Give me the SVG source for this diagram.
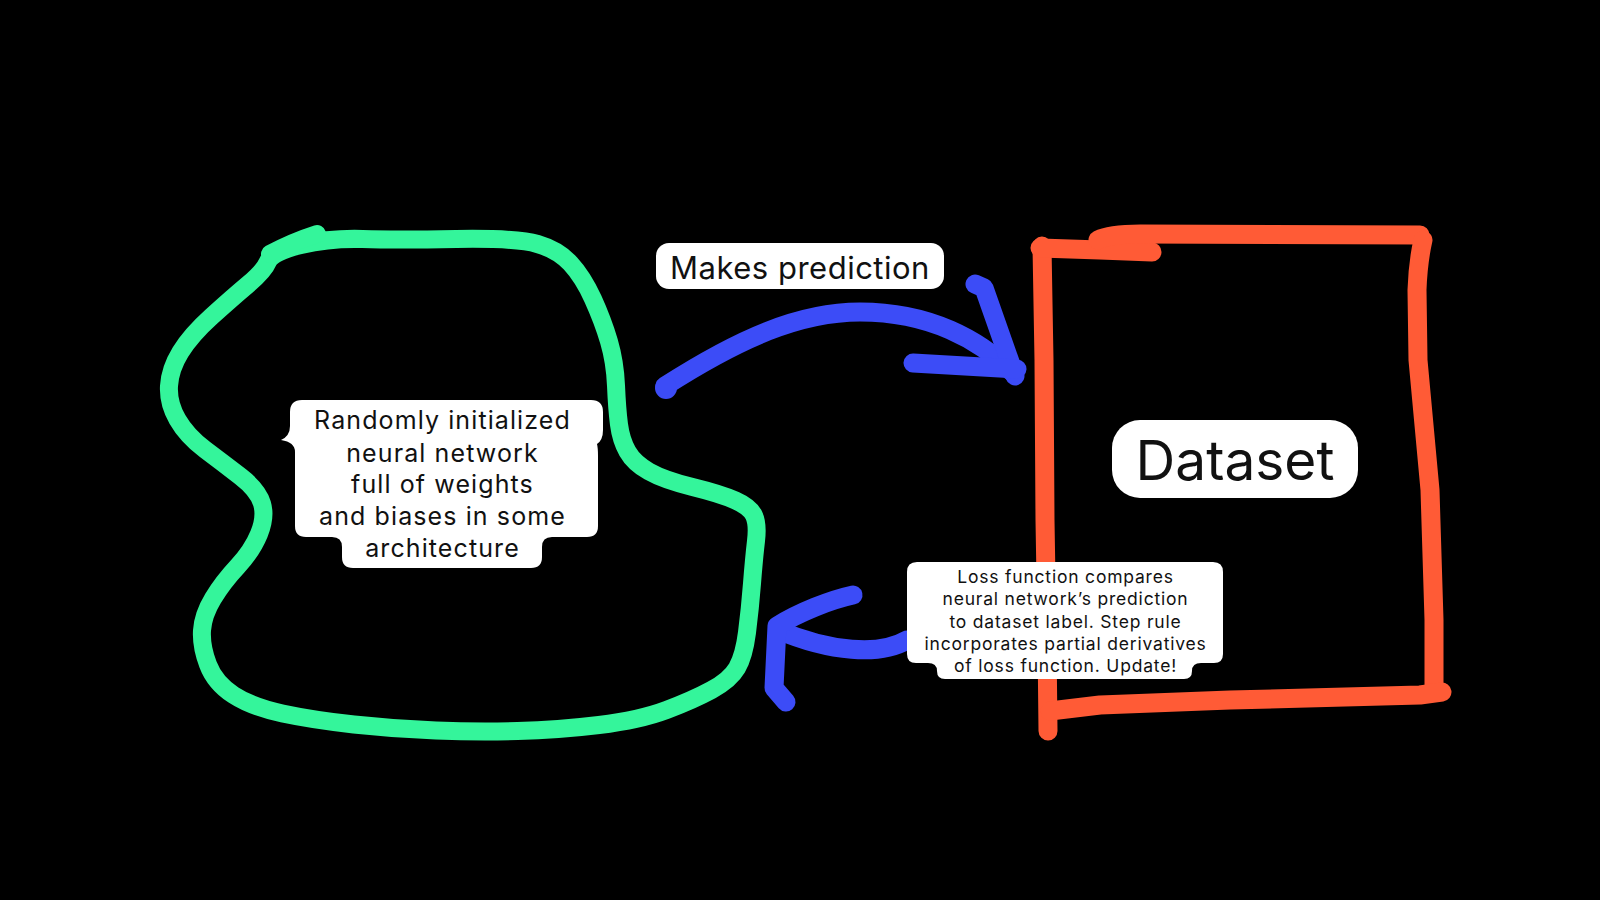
<svg xmlns="http://www.w3.org/2000/svg" width="1600" height="900" viewBox="0 0 1600 900">
<style>
.green{fill:none;stroke:#34F59B;stroke-width:18;stroke-linecap:round;stroke-linejoin:round}
.orange{fill:none;stroke:#FF5B36;stroke-width:19;stroke-linecap:round;stroke-linejoin:round}
.blue{fill:none;stroke:#3C4CF7;stroke-width:19;stroke-linecap:round;stroke-linejoin:round}
.bub{fill:#FFFFFF}
.t{font-family:Inter,"Noto Sans","Liberation Sans",sans-serif;fill:#111111;text-anchor:middle}
.t1{font-size:25px;letter-spacing:1.1px}
.t2{font-size:17.5px;letter-spacing:0.8px}
</style>
<rect x="0" y="0" width="1600" height="900" fill="#000000"/>

<g id="network">
<path class="green" d="M268,261.5 Q272,252 301,245 Q330,238 362.5,239 Q395,240 456,239 Q517,238 537.5,244 Q558,250 570.5,263.5 Q583,277 593,299 Q603,321 609,341.5 Q615,362 616,385.5 Q617,409 619,424.5 Q621,440 627.5,451.5 Q634,463 649,471.5 Q664,480 692.5,487 Q721,494 735.5,500.5 Q750,507 754,515.5 Q758,524 756,541 Q754,558 752,583.5 Q750,609 747,632.5 Q744,656 737,668 Q730,680 711.5,690 Q693,700 666.5,710 Q640,720 599,725 Q558,730 517.5,731 Q477,732 436,730.5 Q395,729 354,724.5 Q313,720 282.5,713.5 Q252,707 233.5,695 Q215,683 208,664.5 Q201,646 202,630.5 Q203,615 213,598.5 Q223,582 237.5,566.5 Q252,551 259,534 Q266,517 262,503.5 Q258,490 240.5,476.5 Q223,463 205,449.5 Q187,436 177.5,419.5 Q168,403 169,386 Q170,369 180.5,352 Q191,335 211.5,316.5 Q232,298 248,284.5 Q264,271 268,261.5 Z"/>
<path class="green" d="M270,254 Q292,242 317,234"/>
<path class="bub" d="M302,400 L591,400 Q603,400 603,412 L603,430 Q603,440 597,444 Q598,448 598,456 L598,526 Q598,537 587,537 L552,537 Q542,537 542,547 L542,557 Q542,568 531,568 L353,568 Q342,568 342,557 L342,547 Q342,537 332,537 L306,537 Q295,537 295,526 L295,452 Q295,442 281,440 Q290,436 290,426 L290,412 Q290,400 302,400 Z"/>
<text class="t t1" x="442.5" y="429">Randomly initialized</text>
<text class="t t1" x="442.5" y="461.5">neural network</text>
<text class="t t1" x="442.5" y="493">full of weights</text>
<text class="t t1" x="442.5" y="525">and biases in some</text>
<text class="t t1" x="442.5" y="556.5">architecture</text>
</g>

<g id="dataset">
<path class="orange" d="M1042,246 L1044,360 L1045,520 L1047,640 L1048,731"/>
<path class="orange" d="M1040,248 L1100,250 L1152,252"/>
<path class="orange" d="M1098,240 Q1110,234 1140,234 L1420,235"/>
<path class="orange" d="M1423,240 Q1418,262 1417,290 L1418,360 L1430,490 L1434,620 L1434,690"/>
<path class="orange" d="M1442,692 L1420,695 L1230,700 L1100,705 L1050,711"/>
<rect class="bub" x="1112" y="420" width="246" height="78" rx="28"/>
<text class="t" font-size="55" x="1235" y="480">Dataset</text>
</g>

<g id="connectors">
<path class="blue" d="M665,386 C740,338 800,312 860,312 C930,312 980,340 1012,372"/>
<circle cx="666" cy="388" r="11" fill="#3C4CF7"/>
<path class="blue" d="M975,284 L984,288 L1015,376"/>
<path class="blue" d="M913,363 L1017,369"/>
<path class="blue" d="M907,640 C880,656 830,652 778,630"/>
<path class="blue" d="M853,595 C830,600 800,612 777,626 L774,688 L786,702"/>
</g>

<g id="label-prediction">
<rect class="bub" x="656" y="243" width="288" height="46" rx="13"/>
<text class="t" font-size="31" letter-spacing="0.5" x="800" y="278.5">Makes prediction</text>
</g>

<g id="label-loss">
<path class="bub" d="M917,562 L1213,562 Q1223,562 1223,572 L1223,654 Q1223,663 1214,663 L1201,663 Q1192,663 1192,671 Q1192,679 1184,679 L945,679 Q937,679 937,671 Q937,663 928,663 L916,663 Q907,663 907,654 L907,572 Q907,562 917,562 Z"/>
<text class="t t2" x="1065.5" y="583">Loss function compares</text>
<text class="t t2" x="1065.5" y="605">neural network’s prediction</text>
<text class="t t2" x="1065.5" y="627.5">to dataset label. Step rule</text>
<text class="t t2" x="1065.5" y="650">incorporates partial derivatives</text>
<text class="t t2" x="1065.5" y="672">of loss function. Update!</text>
</g>
</svg>
